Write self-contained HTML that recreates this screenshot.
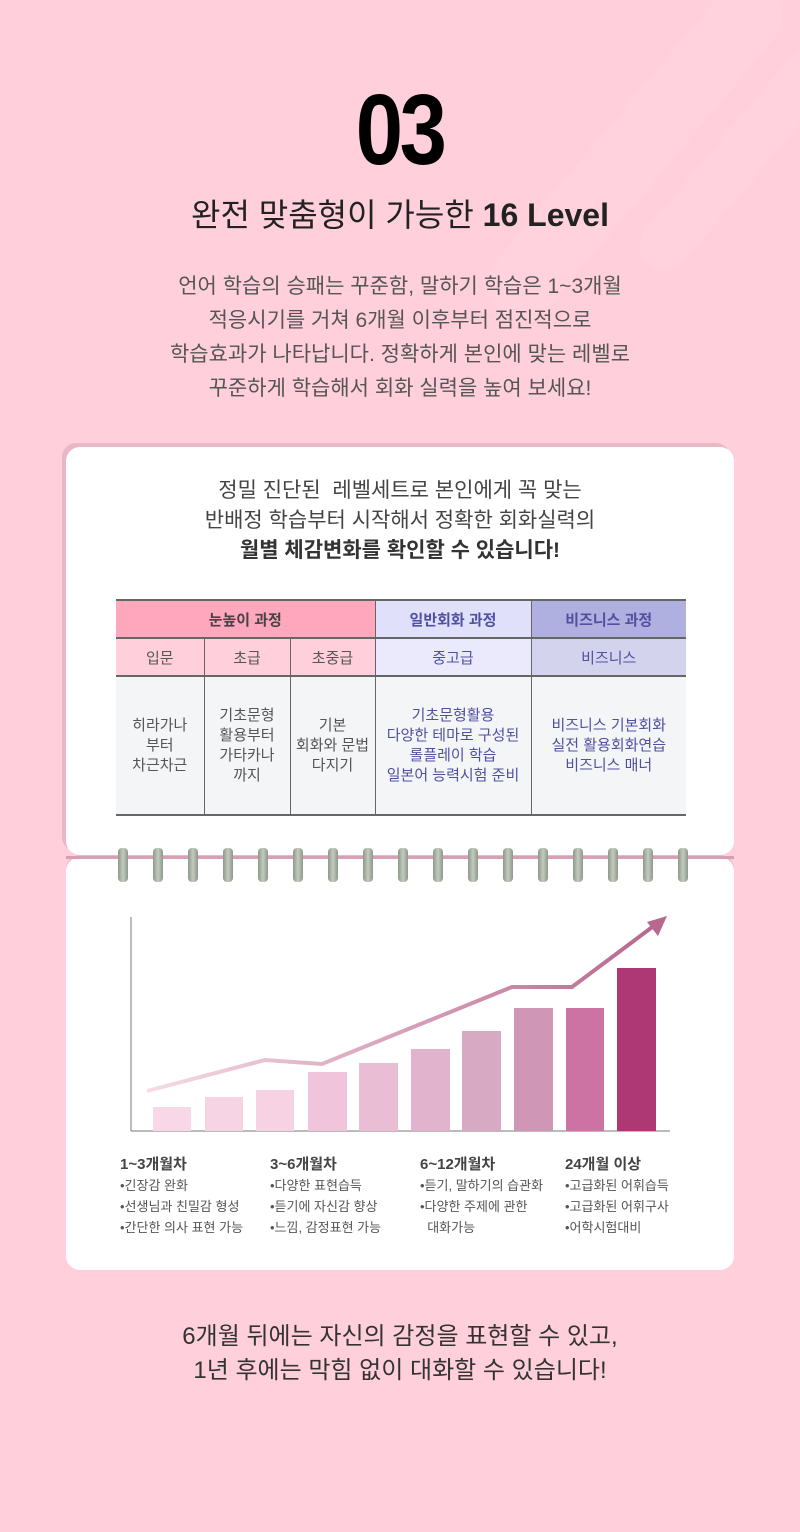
<!DOCTYPE html>
<html><head><meta charset="utf-8"><style>
*{margin:0;padding:0;box-sizing:border-box}
body{width:800px;height:1532px;background:#ffd0dc;font-family:"Liberation Sans","Noto Sans CJK KR",sans-serif;position:relative;overflow:hidden;color:#333}
.abs{position:absolute}
.c{text-align:center;left:0;width:800px}
.card{position:absolute;left:66px;width:668px;background:#fff;border-radius:14px}
table{border-collapse:collapse;position:absolute;left:116px;top:599px;width:570px;font-size:15px;text-align:center}
td{border-left:1px solid #666;padding:0}
td:first-child{border-left:none}
.rt{position:absolute;width:10px;height:34px;border-radius:4px;background:linear-gradient(90deg,#8d9a88,#c3cbbf 50%,#8d9a88)}
.lb{position:absolute;font-size:13px;color:#555;line-height:21px}
.lb b{font-size:15px;color:#444;display:block}
</style></head><body>
<div class="abs" style="left:600px;top:-60px;width:70px;height:420px;background:rgba(255,255,255,0.06);transform:rotate(40deg);border-radius:35px"></div>
<div class="abs" style="left:720px;top:0px;width:50px;height:300px;background:rgba(255,255,255,0.06);transform:rotate(40deg);border-radius:25px"></div>
<div class="abs c" style="top:80px;font-size:100px;font-weight:bold;line-height:100px;letter-spacing:-4px;color:#000"><span style="display:inline-block;transform:scaleX(0.85)">03</span></div>
<div class="abs c" style="top:194px;font-size:32px;color:#222;line-height:42px">완전 맞춤형이 가능한 <b>16 Level</b></div>
<div class="abs c" style="top:270px;font-size:21px;color:#555;line-height:34px">언어 학습의 승패는 꾸준함, 말하기 학습은 1~3개월<br>적응시기를 거쳐 6개월 이후부터 점진적으로<br>학습효과가 나타납니다. 정확하게 본인에 맞는 레벨로<br>꾸준하게 학습해서 회화 실력을 높여 보세요!</div>

<div class="card" style="top:447px;height:408px;box-shadow:-4px -4px 0 #e8b8c8"></div>
<div class="abs c" style="top:476px;font-size:21px;color:#444;line-height:30px">정밀 진단된&nbsp; 레벨세트로 본인에게 꼭 맞는<br>반배정 학습부터 시작해서 정확한 회화실력의<br><b style="color:#333">월별 체감변화를 확인할 수 있습니다!</b></div>
<table>
<tr style="height:38px;border-top:2px solid #666;border-bottom:2px solid #666;font-weight:bold"><td colspan="3" style="background:#ffa8bd;color:#444">눈높이 과정</td><td style="background:#e0e0fb;color:#5050a0">일반회화 과정</td><td style="background:#b0b0e0;color:#5050a0">비즈니스 과정</td></tr>
<tr style="height:38px;border-bottom:2px solid #666"><td style="width:88px;background:#ffd0dc;color:#555">입문</td><td style="width:86px;background:#ffd0dc;color:#555">초급</td><td style="width:85px;background:#ffd0dc;color:#555">초중급</td><td style="width:156px;background:#eaeafc;color:#5050a0">중고급</td><td style="background:#d3d3ee;color:#5050a0">비즈니스</td></tr>
<tr style="height:139px;background:#f4f5f7;border-bottom:2px solid #666;line-height:20px"><td style="color:#555">히라가나<br>부터<br>차근차근</td><td style="color:#555">기초문형<br>활용부터<br>가타카나<br>까지</td><td style="color:#555">기본<br>회화와 문법<br>다지기</td><td style="color:#5050a0">기초문형활용<br>다양한 테마로 구성된<br>롤플레이 학습<br>일본어 능력시험 준비</td><td style="color:#5050a0">비즈니스 기본회화<br>실전 활용회화연습<br>비즈니스 매너</td></tr>
</table>

<div class="card" style="top:857px;height:413px;box-shadow:0 -2px 0 #e8b8c8"></div>
<div class="abs" style="left:66px;top:856px;width:668px;height:3px;background:#d8a0b4"></div>
<div id="rings"></div>
<svg class="abs" style="left:0;top:0" width="800" height="1532">
<line x1="131" y1="917" x2="131" y2="1131" stroke="#777" stroke-width="1"/>
<line x1="131" y1="1131" x2="670" y2="1131" stroke="#777" stroke-width="1"/>
<rect x="153" y="1107" width="38" height="24" fill="#f8d8e6"/>
<rect x="205" y="1097" width="38" height="34" fill="#f7d4e3"/>
<rect x="256" y="1090" width="38" height="41" fill="#f6d2e2"/>
<rect x="308" y="1072" width="39" height="59" fill="#f0c4da"/>
<rect x="359" y="1063" width="39" height="68" fill="#e9bdd4"/>
<rect x="411" y="1049" width="39" height="82" fill="#e1b3cc"/>
<rect x="462" y="1031" width="39" height="100" fill="#d8a9c3"/>
<rect x="514" y="1008" width="39" height="123" fill="#d096b5"/>
<rect x="566" y="1008" width="38" height="123" fill="#cc73a3"/>
<rect x="617" y="968" width="39" height="163" fill="#ad3873"/>
<defs><linearGradient id="g" x1="0" x2="1"><stop offset="0" stop-color="#f6dbe5"/><stop offset="1" stop-color="#b8678f"/></linearGradient></defs>
<polyline points="147,1091 265,1060 322,1064 512,987 572,987 655,925" fill="none" stroke="url(#g)" stroke-width="4"/>
<polygon points="667,916 647,922 658,936" fill="#b8678f"/>
</svg>
<div class="lb" style="left:120px;top:1154px"><b>1~3개월차</b>•긴장감 완화<br>•선생님과 친밀감 형성<br>•간단한 의사 표현 가능</div>
<div class="lb" style="left:270px;top:1154px"><b>3~6개월차</b>•다양한 표현습득<br>•듣기에 자신감 향상<br>•느낌, 감정표현 가능</div>
<div class="lb" style="left:420px;top:1154px"><b>6~12개월차</b>•듣기, 말하기의 습관화<br>•다양한 주제에 관한<br>&nbsp;&nbsp;대화가능</div>
<div class="lb" style="left:565px;top:1154px"><b>24개월 이상</b>•고급화된 어휘습득<br>•고급화된 어휘구사<br>•어학시험대비</div>

<div class="abs c" style="top:1320px;font-size:24px;color:#333;line-height:34px">6개월 뒤에는 자신의 감정을 표현할 수 있고,<br>1년 후에는 막힘 없이 대화할 수 있습니다!</div>
<script>
var h='';for(var i=0;i<17;i++){h+='<div class="rt" style="left:'+(118+i*35)+'px;top:848px"></div>';}
document.getElementById('rings').innerHTML=h;
</script>
</body></html>
